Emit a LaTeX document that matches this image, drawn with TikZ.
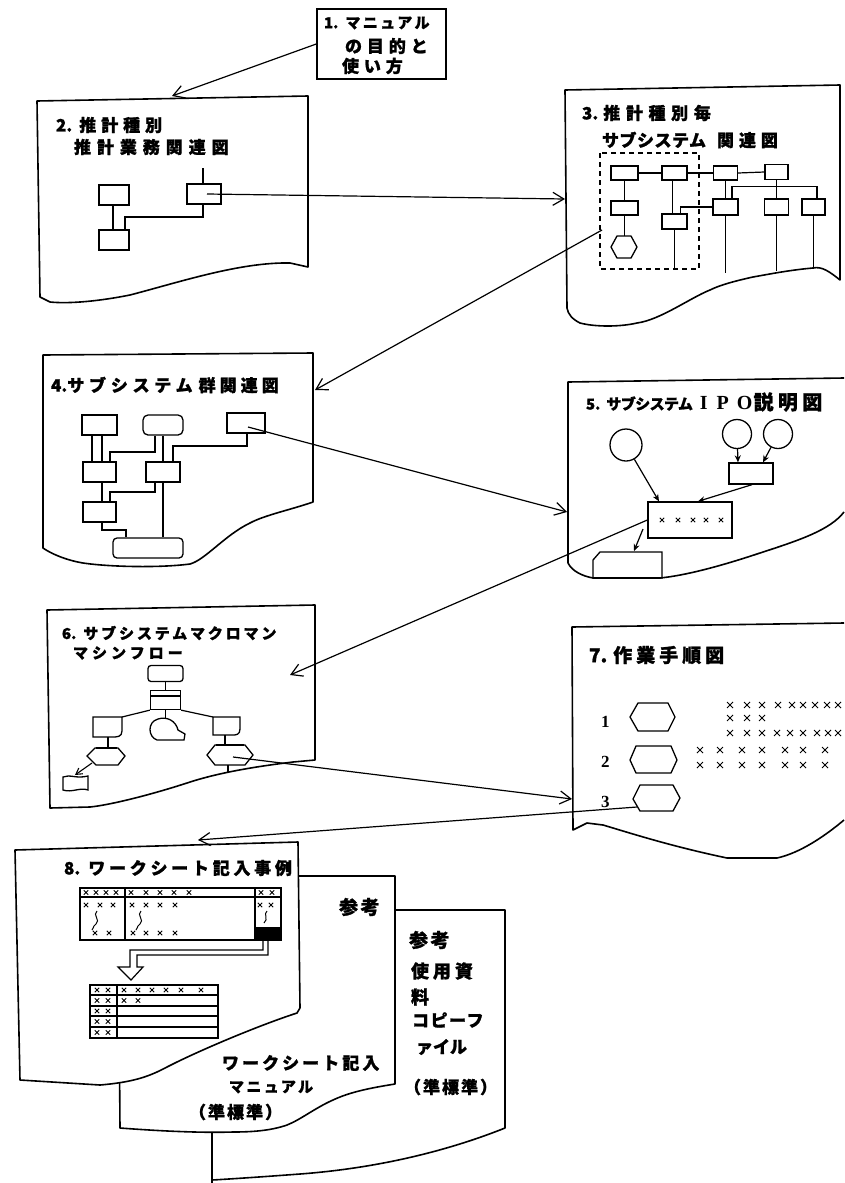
\documentclass[tikz,border=0pt]{standalone}
\usepackage{fontspec}
\newfontfamily\jp{Noto Sans CJK JP}
\newfontfamily\ser{Liberation Serif}
\usetikzlibrary{arrows.meta}
\newcommand\jt[3]{{\fontsize{#1}{#1}\selectfont\jp\bfseries\addfontfeatures{LetterSpace=#2,FakeBold=1.2}#3}}
\newcommand\jn[5]{{\fontsize{#1}{#1}\selectfont\jp\bfseries\addfontfeatures{FakeBold=1.2}#3\hspace{#4pt}\addfontfeatures{LetterSpace=#2}#5}}
\begin{document}
\begin{tikzpicture}[x=1pt,y=-1pt,
  page/.style={line width=1.6pt,line join=round,fill=white},
  sb/.style={draw,line width=1.3pt,inner sep=0pt,fill=white},
  ln/.style={line width=1.2pt},
  conn/.style={line width=1.2pt,-{Straight Barb[length=11pt,width=13pt]}},
  sarr/.style={line width=1.2pt,-{Stealth[length=7pt,width=6pt]}},
  lbl/.style={anchor=west,inner sep=0pt,outer sep=0pt},
  xm/.pic={\draw[line width=1pt] (-3,-3)--(3,3) (-3,3)--(3,-3);},
  xs/.pic={\draw[line width=0.9pt] (-2.2,-2.2)--(2.2,2.2) (-2.2,2.2)--(2.2,-2.2);}
]
\fill[white] (0,0) rectangle (844,1183);
\useasboundingbox (0,0) rectangle (844,1183);

% ---------- Box 1
\node[draw,line width=1.5pt,minimum width=129pt,minimum height=70pt,inner sep=0pt] (b1) at (381.5,44) {};
\node[lbl] (t1a) at (324,23) {\jn{15}{16}{1.}{7}{マニュアル}};
\node[lbl] (t1b) at (345,46) {\jt{17}{29}{の目的と}};
\node[lbl] (t1c) at (342,66) {\jt{17}{29}{使い方}};

% ---------- Box 2
\draw[page] (37,101) -- (308,96) -- (308,267) -- (290,263) .. controls (240,262) and (180,282) .. (130,295) .. controls (100,301) and (70,304) .. (50,302) -- (40,297) -- cycle;
\node[lbl] (t2a) at (56,125) {\jn{17}{29}{2.}{7}{推計種別}};
\node[lbl] (t2b) at (74,147) {\jt{17}{35}{推計業務関連図}};
\node[sb,minimum width=30pt,minimum height=20pt] (A) at (114,195) {};
\node[sb,minimum width=30pt,minimum height=20pt] (B) at (114,240) {};
\node[sb,minimum width=34pt,minimum height=20pt] (C) at (204,194) {};
\coordinate (Ctop) at (203,168);
\draw[ln] ([xshift=-1pt]A.south) -- ([xshift=-1pt]B.north);
\draw[ln] ([xshift=11pt]B.north) -- (125,217) -- (203,217) -- ([xshift=-1pt]C.south);
\draw[ln] (Ctop) -- ([xshift=-1pt]C.north);

% ---------- Box 3
\draw[page] (565,90) -- (840,85) -- (840,280) .. controls (830,272) and (822,266) .. (813,268) .. controls (790,270) and (770,274) .. (753,277) .. controls (735,281) and (720,285) .. (710,290) .. controls (690,298) and (660,320) .. (637,323) .. controls (620,327) and (595,327) .. (580,323) .. controls (572,319) and (568,314) .. (567,308) -- cycle;
\node[lbl] (t3a) at (582,113) {\jn{17}{33}{3.}{5}{推計種別毎}};
\node[lbl] (t3b) at (602,140) {\jt{17}{3}{サブシステム}\hspace{11pt}\jt{17}{29}{関連図}};
\draw[line width=1.3pt,dash pattern=on 5pt off 4pt] (600,153) rectangle (699,269);
\node[sb,minimum width=27pt,minimum height=14pt] (s1) at (624.5,173) {};
\node[sb,minimum width=25pt,minimum height=14pt] (s2) at (674.5,173) {};
\node[sb,minimum width=24pt,minimum height=14pt] (s3) at (725.5,173) {};
\node[sb,minimum width=23pt,minimum height=15pt] (s4) at (776.5,172) {};
\node[sb,minimum width=27pt,minimum height=14pt] (s5) at (624.5,208) {};
\node[sb,minimum width=25pt,minimum height=15pt] (s6) at (674.5,221.5) {};
\node[sb,minimum width=25pt,minimum height=16pt] (s7) at (725.5,207) {};
\node[sb,minimum width=24pt,minimum height=16pt] (s8) at (776.5,207) {};
\node[sb,minimum width=23pt,minimum height=16pt] (s9) at (813.5,207) {};
\draw[line width=1.3pt] (617,236) -- (631,236) -- (637,247) -- (631,258) -- (617,258) -- (611,247) -- cycle;
\coordinate (hx) at (624.5,236);
\draw[ln] (s1.east) -- (s2.west);
\draw[ln] (s2.east) -- (s3.west);
\draw[ln] (s3.east) -- (s4.west);
\draw[ln] (s1.south) -- (s5.north);
\draw[ln] (s5.south) -- (hx);
\draw[ln] ([xshift=-2pt]s2.south) -- ([xshift=-2pt]s6.north);
\draw[ln] (s6.south) -- ++(0,39);
\draw[ln] ([xshift=6pt]s6.north) |- (s7.west);
\draw[ln] (s3.south) -- (s7.north);
\draw[ln] ([xshift=6.5pt]s7.north) -- ++(0,-12) -| ([xshift=3.5pt]s9.north);
\draw[ln] (s4.south) -- (s8.north);
\draw[ln] (s7.south) -- ++(0,57);
\draw[ln] (s8.south) -- ++(0,55);
\draw[ln] (s9.south) -- ++(0,53);

% ---------- Box 4
\draw[page] (43,355) -- (313,353) -- (313,502) .. controls (290,510) and (265,515) .. (250,523) .. controls (225,535) and (205,560) .. (190,564) .. controls (160,568) and (110,567) .. (83,563) .. controls (65,560) and (50,553) .. (43,548) -- cycle;
\node[lbl] (t4) at (51,385) {\jn{17}{28}{4.}{0}{サブシステム}\hspace{6pt}\jt{17}{24}{群関連図}};
\node[sb,minimum width=35pt,minimum height=20pt] (r1) at (99.5,425) {};
\node[sb,rounded corners=5pt,minimum width=40pt,minimum height=20pt] (r2) at (163,425) {};
\node[sb,minimum width=38pt,minimum height=20pt] (r3) at (246,423) {};
\node[sb,minimum width=33pt,minimum height=20pt] (r4) at (99.5,472) {};
\node[sb,minimum width=34pt,minimum height=20pt] (r5) at (163,472) {};
\node[sb,minimum width=33pt,minimum height=20pt] (r6) at (99.5,512) {};
\node[sb,rounded corners=4pt,minimum width=70pt,minimum height=20pt] (r7) at (148,548) {};
\draw[ln] ([xshift=-7.5pt]r1.south) -- ([xshift=-7.5pt]r4.north);
\draw[ln] ([xshift=2.5pt]r1.south) -- ([xshift=2.5pt]r4.north);
\draw[ln] ([xshift=10.5pt]r4.north) -- (110,452) -- (155,452) -- ([xshift=-8pt]r2.south);
\draw[ln] (r2.south) -- (r5.north);
\draw[ln] ([xshift=10pt]r5.north) -- (173,446) -- (247,446) -- ([xshift=1pt]r3.south);
\draw[ln] ([xshift=2.5pt]r4.south) -- ([xshift=2.5pt]r6.north);
\draw[ln] ([xshift=10.5pt]r6.north) -- (110,492) -- (155,492) -- ([xshift=-8pt]r5.south);
\draw[ln] (r5.south) -- ([xshift=15pt]r7.north);
\draw[ln] ([xshift=2.5pt]r6.south) -- (102,530) -- (126,530) -- ([xshift=-22pt]r7.north);

% ---------- Box 5
\draw[page] (844,378) -- (568,382) -- (568,563) .. controls (572,571) and (582,576) .. (593,578) -- (660,578) .. controls (690,575) and (730,563) .. (760,553) .. controls (800,540) and (830,530) .. (844,512);
\node[lbl] (t5) at (586,402) {\jn{15}{-4}{5.}{6}{サブシステム}\hspace{7pt}{\fontsize{20}{20}\selectfont\ser\bfseries I\hspace{9pt}P\hspace{8pt}O}\hspace{1pt}\jt{20}{22}{説明図}};
\node[draw,circle,line width=1.3pt,minimum size=32pt,inner sep=0pt] (c1) at (626,445) {};
\node[draw,circle,line width=1.3pt,minimum size=29pt,inner sep=0pt] (c2) at (737,434) {};
\node[draw,circle,line width=1.3pt,minimum size=29pt,inner sep=0pt] (c3) at (778,434) {};
\node[sb,minimum width=44pt,minimum height=21pt] (sr) at (751,473.5) {};
\node[sb,minimum width=84pt,minimum height=36pt] (br) at (690,520) {};
\foreach \x in {662,678,693,706,721} \pic at (\x,520) {xs};
\draw[line width=1.3pt] (593,560) -- (600,552) -- (662,552) -- (662,578) -- (593,578) -- cycle;
\coordinate (bs) at (634,551);
\coordinate (brl) at (643,529);
\draw[sarr] (c1) -- ([xshift=-31pt]br.north);
\draw[sarr] (c2) -- ([xshift=-13pt]sr.north);
\draw[sarr] (c3) -- ([xshift=12pt]sr.north);
\draw[sarr] ([xshift=1pt]sr.south) -- ([xshift=8pt]br.north);
\draw[sarr] (brl) -- (bs);

% ---------- Box 6
\draw[page] (47,610) -- (315,605) -- (315,760) -- (293,762) .. controls (260,766) and (220,772) .. (187,783) .. controls (150,795) and (110,805) .. (90,807) -- (50,808) -- cycle;
\node[lbl] (t6a) at (62,633) {\jn{15}{19}{6.}{7}{サブシステムマクロマン}};
\node[lbl] (t6b) at (73,653) {\jt{15}{27}{マシンフロー}};
\node[sb,rounded corners=3pt,minimum width=35pt,minimum height=16pt] (m1) at (165.5,673.5) {};
\node[sb,minimum width=30pt,minimum height=19pt] (m2) at (165.5,700) {};
\draw[ln] (150.5,696) -- (180.5,696);
\draw[ln] (m1.south) -- (m2.north);
\draw[line width=1.3pt] (93,717) -- (122,717) -- (122,731) .. controls (122,737) and (117,737) .. (112,737) -- (93,737) -- cycle;
\draw[line width=1.3pt] (157,740) .. controls (148,737) and (147,722) .. (158,719) .. controls (167,716) and (176,721) .. (178,730) -- (185,734) -- (184,740) -- cycle;
\draw[line width=1.3pt] (213,717) -- (240,717) -- (240,729) .. controls (240,735) and (236,735) .. (232,735) -- (213,735) -- cycle;
\draw[ln] (m2.south west) -- (122,717);
\draw[ln] (m2.south east) -- (213,717);
\draw[ln] (m2.south) -- (165.5,719);
\draw[ln] (108,737) -- (108,748);
\draw[line width=1.3pt] (95,748) -- (118,748) -- (125,756) -- (118,765) -- (96,765) -- (87,756) -- cycle;
\draw[line width=2.2pt] (96,748) -- (117,748);
\coordinate (lh) at (92,763);
\coordinate (sd) at (75,775);
\draw[line width=1.1pt,-{Straight Barb[length=6pt,width=7pt]}] (lh) -- (sd);
\draw[line width=1.3pt] (63,777) .. controls (70,774) and (76,779) .. (88,776) -- (88,790) .. controls (80,787) and (72,793) .. (63,790) -- cycle;
\draw[ln] (225,735) -- (225,745);
\draw[line width=1.3pt] (215,745) -- (245,745) -- (253,755) -- (245,765) -- (215,765) -- (207,755) -- cycle;
\draw[line width=2.2pt] (216,745) -- (244,745);
\draw[ln] (228,765) -- (228,772);

% ---------- Box 7
\draw[page] (844,623) -- (572,627) -- (573,830) -- (587,823) -- (603,825) .. controls (630,833) and (670,846) .. (727,858) -- (777,858) .. controls (800,853) and (825,836) .. (844,820);
\node[lbl] (t7) at (589,655) {\jn{19}{21}{7.}{6}{作業手順図}};
\node[lbl] (n1) at (601,722) {\fontsize{17}{17}\selectfont\ser\bfseries 1};
\node[lbl] (n2) at (601,762) {\fontsize{17}{17}\selectfont\ser\bfseries 2};
\node[lbl] (n3) at (601,802) {\fontsize{17}{17}\selectfont\ser\bfseries 3};
\draw[line width=1.3pt] (638,703) -- (668,703) -- (675,717) -- (668,731) -- (638,731) -- (630,717) -- cycle;
\draw[line width=1.3pt] (636,746) -- (671,746) -- (677,760) -- (671,773) -- (636,773) -- (630,760) -- cycle;
\draw[line width=1.3pt] (640,785) -- (673,785) -- (680,798) -- (673,811) -- (640,811) -- (633,799) -- cycle;
\coordinate (h3l) at (637,807);
\foreach \x in {730,747,762,778,792,803,815,827,838} \pic at (\x,705) {xm};
\foreach \x in {730,747,762} \pic at (\x,718) {xm};
\foreach \x in {730,747,762,777,790,803,817,828,838} \pic at (\x,733) {xm};
\foreach \x in {700,720,742,762,785,803,825} {\pic at (\x,750) {xm}; \pic at (\x,765) {xm};}

% ---------- back pages
\draw[page] (212,1183) -- (212,910) -- (505,910) -- (505,1128) .. controls (450,1150) and (380,1168) .. (300,1174) .. controls (260,1177) and (230,1179) .. (212,1180);
\node[lbl] (r8a) at (409,940) {\jt{19}{13}{参考}};
\node[lbl] (r8b) at (411,971) {\jt{18}{22}{使用資}};
\node[lbl] (r8c) at (411,997) {\jt{18}{22}{料}};
\node[lbl] (r8d) at (412,1020) {\jt{17}{9}{コピーフ}};
\node[lbl] (r8e) at (416,1047) {\jt{17}{0}{ァイル}};
\node[lbl] (r8f) at (404,1087) {\jt{17}{12}{（準標準）}};

\draw[page] (118,876) -- (395,876) -- (395,1084) .. controls (370,1088) and (350,1092) .. (333,1100) .. controls (315,1108) and (300,1120) .. (287,1125) .. controls (270,1131) and (250,1132) .. (233,1132) .. controls (200,1133) and (160,1131) .. (120,1128) -- cycle;
\node[lbl] (m8a) at (339,907) {\jt{19}{13}{参考}};
\node[lbl] (m8b) at (222,1063) {\jt{17}{18}{ワークシート記入}};
\node[lbl] (m8c) at (229,1087) {\jt{15}{16}{マニュアル}};
\node[lbl] (m8d) at (189,1112) {\jt{17}{12}{（準標準）}};

% ---------- Box 8
\draw[page] (15,850) -- (298,842) -- (300,1008) -- (297,1013) .. controls (260,1025) and (200,1050) .. (167,1067) .. controls (150,1076) and (135,1082) .. (100,1085) -- (20,1080) -- cycle;
\node[lbl] (t8) at (64,868) {\jn{17}{22}{8.}{8}{ワークシート記入事例}};
% table 1
\draw[line width=1.3pt] (80,888) rectangle (281,940);
\draw[ln] (80,897) -- (281,897) (125,888) -- (125,940) (255,888) -- (255,940);
\foreach \x in {86,96,106,116,131,146,160,174,189,261,272} \pic at (\x,892.5) {xs};
\foreach \x in {86,100,113,132,146,160,175,260,271} \pic at (\x,905) {xs};
\foreach \x in {95,109,133,146,160,175} \pic at (\x,933) {xs};
\draw[line width=1pt] (97,911) .. controls (92,915) and (101,920) .. (96,924) .. controls (92,927) and (94,929) .. (92,930);
\draw[line width=1pt] (141,911) .. controls (136,915) and (145,920) .. (140,924) .. controls (136,927) and (138,929) .. (136,930);
\draw[line width=1pt] (267,911) .. controls (263,914) and (269,919) .. (264,923);
\fill (256,927) rectangle (280,940);
% hollow arrow
\draw[line width=1.2pt,line join=miter] (268,940) -- (268,955) -- (137,955) -- (137,967) -- (143,967) -- (131,980) -- (118,967) -- (130,967) -- (130,950) -- (263,950) -- (263,940);
% table 2
\draw[line width=1.3pt] (90,985) rectangle (218,1038);
\draw[ln] (117,985) -- (117,1038);
\foreach \y in {995,1006,1016,1027} \draw[ln] (90,\y) -- (218,\y);
\foreach \y in {990,1000.5,1011,1021.5,1032.5} {\pic at (97,\y) {xs}; \pic at (108,\y) {xs};}
\foreach \x in {124,138,152,166,181,201} \pic at (\x,990) {xs};
\foreach \x in {124,138} \pic at (\x,1000.5) {xs};

% ---------- connectors
\coordinate (in2) at (172,96);
\coordinate (in3) at (565,199);
\coordinate (out3) at (602,230);
\coordinate (in4) at (315,390);
\coordinate (in5) at (567,512);
\coordinate (in6) at (290,675);
\coordinate (out6) at (233,757);
\coordinate (in7) at (572,799);
\coordinate (in8) at (198,840);
\draw[conn] (b1.west) -- (in2);
\draw[conn] ([xshift=3pt]C.center) -- (in3);
\draw[conn] (out3) -- (in4);
\draw[conn] ([xshift=2pt,yshift=-4pt]r3.center) -- (in5);
\draw[conn] (br.west) -- (in6);
\draw[conn] (out6) -- (in7);
\draw[conn] (h3l) -- (in8);
\end{tikzpicture}
\end{document}
